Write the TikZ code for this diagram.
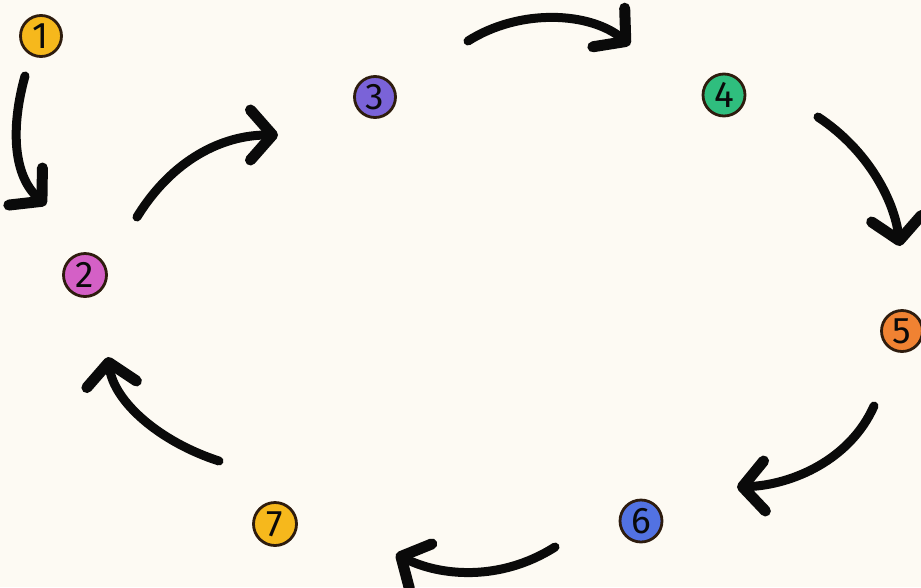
\documentclass[tikz,border=0pt]{standalone}
\usepackage{fontspec}
\setmainfont{Fira Sans}
\usetikzlibrary{arrows.meta}
\definecolor{bg}{HTML}{FDFAF3}
\definecolor{rim}{HTML}{2E1C0E}
\definecolor{cA}{HTML}{F6B81C}
\definecolor{cB}{HTML}{D460C6}
\definecolor{cC}{HTML}{7A63D8}
\definecolor{cD}{HTML}{2FBE7E}
\definecolor{cE}{HTML}{F08232}
\definecolor{cF}{HTML}{5272E2}
\definecolor{ink}{HTML}{0A0A0A}
\tikzset{
  num/.style={circle, draw=rim, line width=2.8pt, minimum size=41pt, inner sep=0pt,
    font=\fontsize{37}{37}\selectfont, text=ink},
  flow/.style={draw=ink, line width=9pt, line cap=round, line join=round,
    -{Straight Barb[length=22pt,width=50pt,round,line width=11pt]}}
}
\begin{document}
\begin{tikzpicture}[x=1pt,y=-1pt]
\fill[bg] (0,0) rectangle (921,587);
\useasboundingbox (0,0) rectangle (921,587);
\node[num, fill=cA] (n1) at (41,36) {1};
\node[num, fill=cB, minimum size=43pt] (n2) at (85,275) {2};
\node[num, fill=cC] (n3) at (375,97) {3};
\node[num, fill=cD, minimum size=42pt] (n4) at (724,95) {4};
\node[num, fill=cE] (n5) at (902,331) {5};
\node[num, fill=cF, minimum size=42pt] (n6) at (641,521) {6};
\node[num, fill=cA, minimum size=43pt] (n7) at (275,524) {7};
\coordinate (a1s) at (25,76);   \coordinate (a1e) at (46,205);
\coordinate (a2s) at (137,217); \coordinate (a2e) at (278,135);
\coordinate (a3s) at (468,41);  \coordinate (a3e) at (630,45);
\coordinate (a4s) at (818,117); \coordinate (a4e) at (900,246);
\coordinate (a5s) at (874,406); \coordinate (a5e) at (737,487);
\coordinate (a6s) at (555,547); \coordinate (a6e) at (396,554);
\coordinate (a7s) at (219,461); \coordinate (a7e) at (108,357);
\draw[flow] (a1s) .. controls (10,130) and (14,176) .. (a1e);
\draw[flow] (a2s) .. controls (172,160) and (222,135) .. (a2e);
\draw[flow] (a3s) .. controls (520,8) and (590,12) .. (a3e);
\draw[flow] (a4s) .. controls (868,150) and (894,200) .. (a4e);
\draw[flow] (a5s) .. controls (850,460) and (792,485) .. (a5e);
\draw[flow] (a6s) .. controls (500,582) and (440,576) .. (a6e);
\draw[flow] (a7s) .. controls (160,442) and (114,402) .. (a7e);
\end{tikzpicture}
\end{document}
